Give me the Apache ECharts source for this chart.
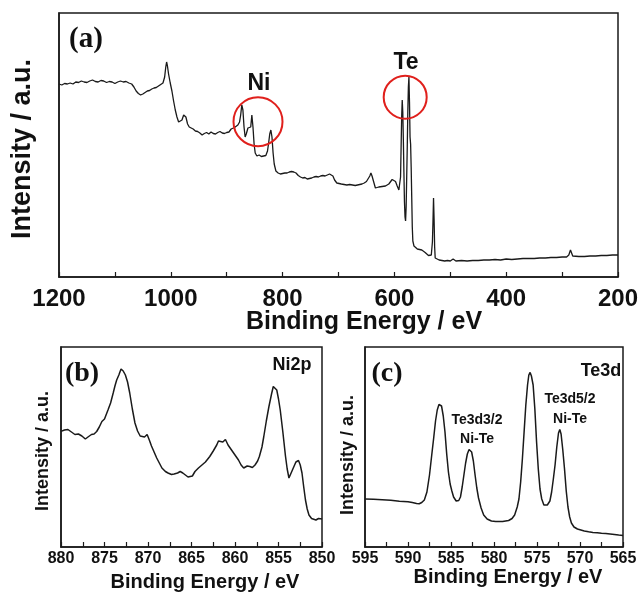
<!DOCTYPE html>
<html>
<head>
<meta charset="utf-8">
<script src="https://cdn.jsdelivr.net/npm/echarts@6/dist/echarts.min.js"></script>
<style>
html,body{margin:0;padding:0;background:#fff;}
#chart{width:642px;height:592px;}
</style>
</head>
<body>
<div id="chart"></div>
<script>
// ---------- Panel (a): survey spectrum ----------
const surveyEnergy = [1200,1195,1190,1185,1180,1175,1170,1165,1160,1155,1150,1145,1140,1135,1130,1125,1120,1115,1110,1105,1100,1095,1090,1085,1080,1075,1070,1066,1062,1058,1054,1050,1046,1042,1038,1034,1030,1026,1022,1018,1014,1011,1009,1007.5,1006,1004,1001,998,995,992,989,986,983,980,977,975,973,970,967,964,960,956,952,948,944,940,936,932,928,924,920,916,912,908,904,900,896,892,889,886,883,880,877,875,873,871,869,867,865,862,859,857,855,853,851,849,846,842,838,834,830,827,825,823,821,819,817,815,812,808,804,800,796,792,788,784,780,776,772,768,764,760,756,752,748,744,740,736,732,728,724,720,716,713,710,707,703,699,695,690,685,680,675,670,666,662,658,654,650,647,644,642,640,637,634,631,628,625,622,619,616,613,610,607,604,601,598,595,592,590,589,588,587,586,585,584,583,582,581,580,579,578,577,576,575,574,573,572,571,570,569,568,567,565,562,559,555,551,548,545,542,539,536,534,532,531,530,529,528,527,524,520,515,510,505,500,497,495,493,490,480,470,460,450,440,430,420,410,400,390,380,370,360,350,340,330,320,310,300,292,288,285,283,281,278,270,260,250,240,230,220,210,200];
const surveyIntensity = [193,192,193.5,193,194,193,195,194.5,196,195,194.5,196,197,195.5,195,196.5,196,194.5,195.5,195,193.5,195,196,195,195.5,194,193,190,186,183.5,182,183,184.5,186,186.5,188,189,189.5,191,192.5,194,200,210,215,211,203,194,186,176,167,160,155,154,157,162,164,160,153,150,148.5,148,146,145.5,144,142,143.5,144.5,143,145,143.5,143,144.5,145.5,144,143.5,144.5,145,148,150,149.5,151,152,155,162,172,167,150,140,143,149,148,150,162,150,133,124,121,122,120.5,121,121.5,126,134,143,147,140,124,113,106,104,103,103.5,104,104,105,105.5,105,104,101.5,100,99,99.5,98,98.5,99,100,100.5,100,101,101.5,101,102,103,104.5,101,97,94,93.5,93,92.5,92,92.5,92,91.5,92,92.5,93,94,95.5,97,101,104,101,95,89,88,90,91,90.5,92,91,92,93,95,97.5,98,95.5,91,87,85,100,130,160,177,165,138,105,75,60,56,70,100,130,165,190,200,175,140,133,110,80,50,36,31,29,28,27.5,27,26,24.5,23,21.5,21,22,35,55,79,58,30,19,17.5,17,16.5,16,16.5,16,16.5,18,16,16,16.5,16,16.5,16.5,17,17,17.5,17,18,17.5,18,18.5,18.5,18.5,19,19,19.5,19.5,20,20,22,27,27,21,20,20.5,20.5,21,21,21.5,21.5,22,22];
const surveyTicks = [1200,1000,800,600,400,200];
const circleLabels = ['Ni','Te'];
const circleEnergy = [844,580.7];
const circleIntensity = [155.3,179.8];

// ---------- Panel (b): Ni2p ----------
const niEnergy = [880,879.6,879.2,878.8,878.4,878.0,877.6,877.2,876.9,876.5,876.2,875.9,875.6,875.3,875.0,874.6,874.3,874.0,873.8,873.6,873.35,873.1,872.85,872.6,872.35,872.1,871.8,871.5,871.2,870.9,870.7,870.4,870.1,869.85,869.6,869.3,869.0,868.7,868.4,868.0,867.7,867.3,867.0,866.6,866.3,866.0,865.7,865.4,865.2,864.9,864.6,864.2,863.8,863.4,862.9,862.5,862.1,861.9,861.7,861.4,861.1,860.8,860.4,860.0,859.6,859.3,859.0,858.6,858.3,858.0,857.7,857.4,857.2,856.9,856.7,856.4,856.1,855.8,855.6,855.4,855.2,855.0,854.8,854.5,854.2,854.0,853.8,853.6,853.4,853.2,853.0,852.7,852.5,852.3,852.1,851.9,851.7,851.5,851.2,851.0,850.7,850.4,850.0];
const niIntensity = [115.6,117,117.5,115,112.5,113,111,108,110,112.5,113,115.5,120,125.5,128,137,144,154,161,167,172,178,176,172,165,154,138,124,116,111,109,110,112.5,107,101,95,89,84,79,75.5,74,72.5,73,74,75.5,74,72,70,68,71,75.5,79,82,85,90.5,96,102,106,108,105,107.5,102,97,92,87,82,79,81,80.5,79.5,82,86,90.5,100,110,126,140.5,153,160.5,159,157,148,137,115,91,78,69,73,77,81,85,86.5,82,74,60,47,38,32,28.5,27.5,27,28.5,28];

// ---------- Panel (c): Te3d ----------
const teEnergy = [595,594,593,592,591,590,589.5,589,588.7,588.4,588.1,587.8,587.5,587.2,587.0,586.8,586.6,586.4,586.25,586.1,585.9,585.7,585.5,585.3,585.1,584.9,584.7,584.4,584.1,583.9,583.7,583.5,583.3,583.1,582.9,582.75,582.6,582.4,582.2,582.0,581.8,581.5,581.2,580.8,580.3,579.8,579.0,578.3,577.9,577.6,577.3,577.1,576.9,576.7,576.5,576.3,576.1,575.95,575.8,575.65,575.45,575.25,575.05,574.85,574.65,574.45,574.2,574.0,573.8,573.5,573.3,573.1,572.9,572.7,572.5,572.35,572.2,572.0,571.8,571.6,571.4,571.2,571.0,570.7,570.3,570.0,569.5,569.0,568.5,568.0,567.5,567.0,566.5,566.0,565.5,565.0];
const teIntensity = [48,47.8,47.3,46.8,45.8,45.3,44.5,43.5,43.3,44.5,47,55,72,95,110,126,137,142.5,143.3,141,131,115,93,75,63,56,50,46,46.5,50,60,72,84,93,97.5,98,95,86,72,59,49,39,32,28,26,25.6,25.5,26.5,28.5,32,40,48,65,88,115,142,162,172,174.6,171,162,138,105,78,58,48,42,40.5,42,46,55,68,82,100,114,117.5,113,97,78,56,40,30,24,20,18,17.3,16,15.2,14.6,14.3,13.8,13.5,13,12.5,12,11.6];

const zip = (xs, ys) => xs.map((x, i) => [x, ys[i]]);

const SANS = '"Liberation Sans", Arial, sans-serif';
const SERIF = '"Liberation Serif", "Times New Roman", serif';
const INK = '#1a1a1a';
const RED = '#e0201c';

function xAxisFor(grid, min, max, interval, labelSize, margin) {
  return {
    type: 'value', gridIndex: grid, min: min, max: max, interval: interval, inverse: true,
    axisLine: { show: true, lineStyle: { color: INK, width: 1.5 } },
    axisTick: { show: true, inside: true, length: 5, lineStyle: { color: INK, width: 1.2 } },
    minorTick: { show: true, splitNumber: 2, length: 5, lineStyle: { color: INK, width: 1.2 } },
    axisLabel: { fontFamily: SANS, fontWeight: 'bold', fontSize: labelSize, color: '#111', margin: margin,
      formatter: v => String(v) },
    splitLine: { show: false }, minorSplitLine: { show: false }
  };
}
function yAxisFor(grid, max) {
  return {
    type: 'value', gridIndex: grid, min: 0, max: max,
    axisLine: { show: true, lineStyle: { color: INK, width: 1.5 } },
    axisTick: { show: false }, axisLabel: { show: false }, splitLine: { show: false }
  };
}
function txt(text, x, y, size, opts) {
  opts = opts || {};
  return {
    type: 'text', x: x, y: y, rotation: opts.rotation || 0, z: 100,
    style: {
      text: text, fill: '#111', font: 'bold ' + size + 'px ' + (opts.family || SANS),
      align: 'center', verticalAlign: 'middle', lineHeight: opts.lineHeight || size
    }
  };
}

const chart = echarts.init(document.getElementById('chart'), null, { renderer: 'canvas' });
chart.setOption({
  animation: false,
  backgroundColor: '#fff',
  grid: [
    { left: 59, top: 13, width: 559, height: 264, show: true, borderColor: INK, borderWidth: 1.5, backgroundColor: 'transparent' },
    { left: 61, top: 347, width: 261, height: 200, show: true, borderColor: INK, borderWidth: 1.5, backgroundColor: 'transparent' },
    { left: 365, top: 347, width: 258, height: 200, show: true, borderColor: INK, borderWidth: 1.5, backgroundColor: 'transparent' }
  ],
  xAxis: [
    xAxisFor(0, 200, 1200, 200, 24, 10),
    xAxisFor(1, 850, 880, 5, 16, 4),
    xAxisFor(2, 565, 595, 5, 16, 4)
  ],
  yAxis: [yAxisFor(0, 264), yAxisFor(1, 200), yAxisFor(2, 200)],
  series: [
    {
      type: 'line', xAxisIndex: 0, yAxisIndex: 0, showSymbol: false, smooth: false,
      lineStyle: { color: INK, width: 1.3 }, data: zip(surveyEnergy, surveyIntensity),
      markPoint: {
        symbol: 'circle', silent: true,
        itemStyle: { color: 'rgba(0,0,0,0)', borderColor: RED, borderWidth: 2 },
        label: { show: false },
        data: circleLabels.map((n, i) => ({ name: n, coord: [circleEnergy[i], circleIntensity[i]], symbolSize: i === 0 ? 49 : 43 }))
      }
    },
    {
      type: 'line', xAxisIndex: 1, yAxisIndex: 1, showSymbol: false,
      lineStyle: { color: INK, width: 1.5 }, data: zip(niEnergy, niIntensity)
    },
    {
      type: 'line', xAxisIndex: 2, yAxisIndex: 2, showSymbol: false,
      lineStyle: { color: INK, width: 1.5 }, data: zip(teEnergy, teIntensity)
    }
  ],
  graphic: [
    txt('(a)', 86, 40, 29, { family: SERIF }),
    txt('Ni', 259, 84, 23),
    txt('Te', 406, 63, 23),
    txt('Intensity / a.u.', 23, 149, 27, { rotation: Math.PI / 2 }),
    txt('Binding Energy / eV', 364, 322, 25),
    txt('(b)', 82, 374, 28, { family: SERIF }),
    txt('Ni2p', 292, 365, 18),
    txt('Intensity / a.u.', 43, 451, 18, { rotation: Math.PI / 2 }),
    txt('Binding Energy / eV', 205, 582, 20),
    txt('(c)', 387, 374, 28, { family: SERIF }),
    txt('Te3d', 601, 371, 18),
    txt('Te3d3/2\nNi-Te', 477, 430, 14, { lineHeight: 19 }),
    txt('Te3d5/2\nNi-Te', 570, 409, 14, { lineHeight: 20 }),
    txt('Intensity / a.u.', 348, 455, 18, { rotation: Math.PI / 2 }),
    txt('Binding Energy / eV', 508, 577, 20)
  ]
});
</script>
</body>
</html>
